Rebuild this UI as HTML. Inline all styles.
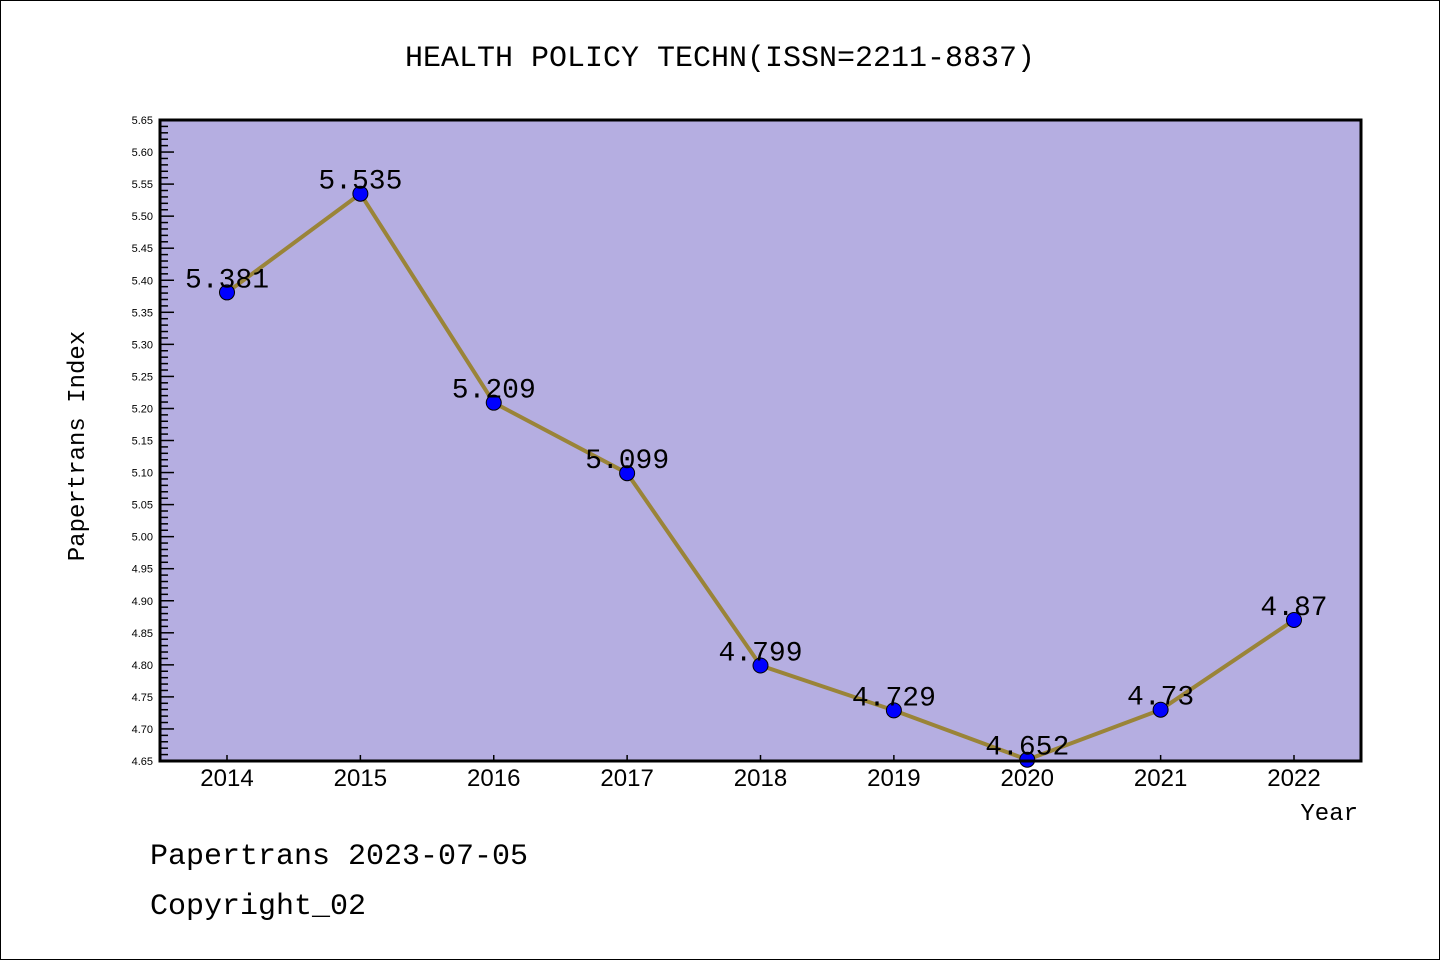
<!DOCTYPE html>
<html><head><meta charset="utf-8"><style>
body{margin:0;background:#fff;}
svg{display:block;font-family:"Liberation Mono","WenQuanYi Zen Hei",monospace;}
</style></head><body>
<svg id="c" width="1440" height="960">
<rect x="0.5" y="0.5" width="1439" height="959" fill="#fff" stroke="#000"/>
<text x="720" y="66" text-anchor="middle" font-size="30">HEALTH POLICY TECHN(ISSN=2211-8837)</text>
<rect x="160" y="120" width="1201" height="641" fill="#b5aee1"/>
<g id="yax"></g>
<g id="xax"></g>
<g id="series"></g>
<rect x="160" y="120" width="1201" height="641" fill="none" stroke="#000" stroke-width="3"/>
<text transform="translate(84,446) rotate(-90)" text-anchor="middle" font-size="24">Papertrans Index</text>
<text x="1358" y="820" text-anchor="end" font-size="24">Year</text>
<text x="150" y="864" font-size="30">Papertrans 2023-07-05</text>
<text x="150" y="914" font-size="30">Copyright_02</text>
</svg>
<script>
const years=["2014","2015","2016","2017","2018","2019","2020","2021","2022"];
const values=[5.381,5.535,5.209,5.099,4.799,4.729,4.652,4.73,4.87];
const labels=["5.381","5.535","5.209","5.099","4.799","4.729","4.652","4.73","4.87"];
const yMin=4.65,yMax=5.65;
const NS="http://www.w3.org/2000/svg";
const X0=160,X1=1361,Y0=761,Y1=120;
function xs(i){return 227+i*(1294-227)/(years.length-1);}
function ys(v){return Y0-(v-yMin)/(yMax-yMin)*(Y0-Y1);}
function mk(t,a,p){const e=document.createElementNS(NS,t);for(const k in a)e.setAttribute(k,a[k]);p.appendChild(e);return e;}
const yax=document.getElementById('yax');
for(let k=0;k<=100;k++){
  const v=yMin+k*0.01,y=ys(v),major=k%5===0;
  const l=mk('line',{x1:X0,x2:X0+(major?14:8),y1:y,y2:y,stroke:'#000','stroke-width':1.5},yax);
  
  
  if(major){const t=mk('text',{x:153,y:y+4,'text-anchor':'end','font-size':11,'font-family':'Liberation Sans, sans-serif'},yax);t.textContent=v.toFixed(2);
    
    }
}
const xax=document.getElementById('xax');
years.forEach((yr,i)=>{const x=xs(i);
  const l=mk('line',{x1:x,x2:x,y1:Y0,y2:Y0-6,stroke:'#000','stroke-width':1.5},xax);
  
  
  const t=mk('text',{x:x,y:786,'text-anchor':'middle','font-size':24,'font-family':'Liberation Sans, sans-serif'},xax);t.textContent=yr;
  
  
});
const s=document.getElementById('series');
const pl=mk('polyline',{points:values.map((v,i)=>xs(i)+','+ys(v)).join(' '),fill:'none',stroke:'#9a8438','stroke-width':4,'stroke-linejoin':'round'},s);


values.forEach((v,i)=>{
  const c=mk('circle',{cx:xs(i),cy:ys(v),r:7.5,fill:'#0000ff',stroke:'#000','stroke-width':1},s);
  
  
  const t=mk('text',{x:xs(i),y:ys(v)-5,'text-anchor':'middle','font-size':28},s);t.textContent=labels[i];
  
  
});
</script>
</body></html>
